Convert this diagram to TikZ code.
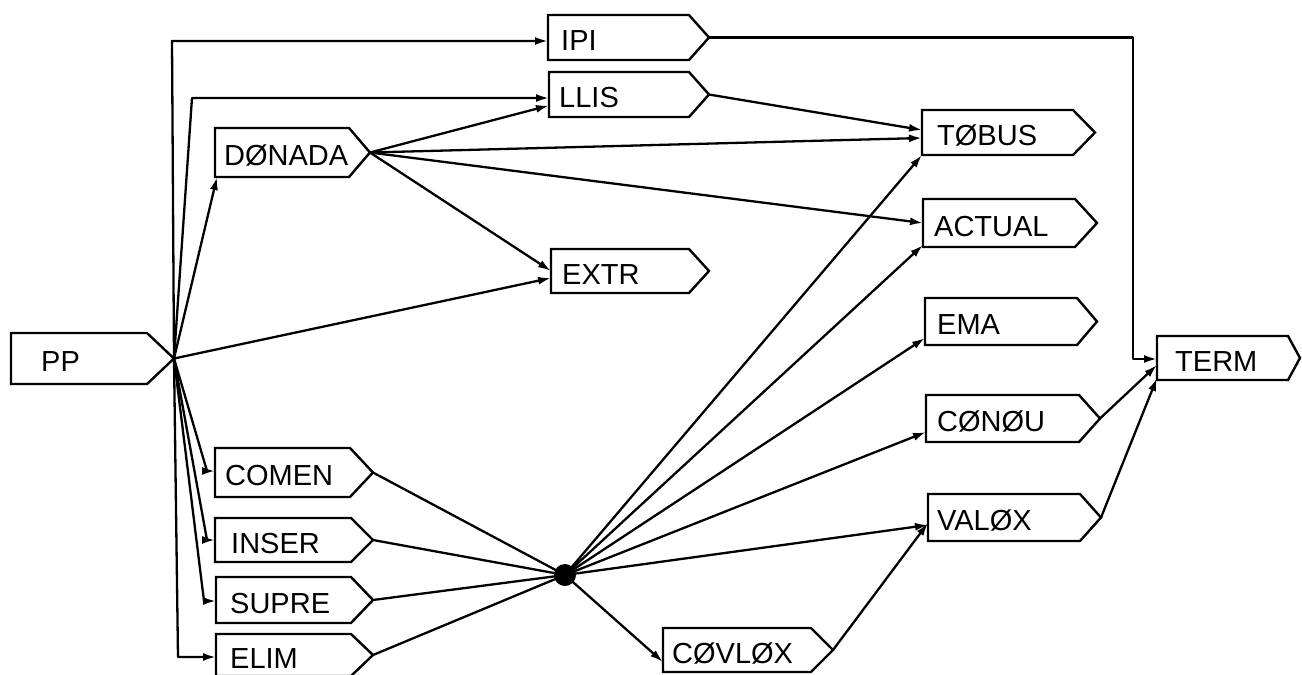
\documentclass[tikz,border=0pt]{standalone}
\usepackage{fontspec}
\setmainfont{Liberation Sans}
\usetikzlibrary{arrows.meta,calc}
\tikzset{
  boxline/.style={draw=black, line width=2.4pt, line join=miter},
  lbl/.style={inner sep=0pt, font=\fontsize{29}{29}\selectfont, text=black},
  anc/.style={inner sep=0pt, outer sep=0pt},
  conn/.style={line width=2.3pt, draw=black, line join=round},
  arr/.style={conn, -{Latex[length=13pt,width=8pt]}},
  dotn/.style={circle, fill=black, inner sep=0pt, minimum size=22pt},
}
% #1 name, #2 x1, #3 y1, #4 x2, #5 y2, #6 tip x, #7 text offset, #8 text
\newcommand\blk[8]{%
  \draw[boxline] (#2,#3) -- (#4,#3) -- (#6,{(#3+#5)/2}) -- (#4,#5) -- (#2,#5) -- cycle;
  \node[anc, anchor=north west, minimum width={(#4-#2)*1pt}, minimum height={(#5-#3)*1pt}] (#1) at (#2,#3) {};
  \coordinate (#1-tip) at (#6,{(#3+#5)/2});
  \node[lbl, anchor=base west] (#1-t) at ({#2+#7},{(#3+#5)/2+13}) {#8};
}
\begin{document}
\begin{tikzpicture}[x=1pt,y=-1pt]
\useasboundingbox[fill=white] (0,0) rectangle (1302,675);
% blocks
\blk{pp}{11}{333}{147}{384}{174}{30}{PP}
\blk{ipi}{548}{15}{689}{60}{709}{13}{IPI}
\blk{llis}{549}{72}{689}{117}{709}{10}{LLIS}
\blk{donada}{215}{128}{349}{177}{370}{9}{DØNADA}
\blk{extr}{551}{249}{689}{293}{709}{11}{EXTR}
\blk{comen}{215}{448}{350}{497}{373}{10}{COMEN}
\blk{inser}{215}{518}{351}{562}{373}{16}{INSER}
\blk{supre}{216}{577}{351}{623}{373}{14}{SUPRE}
\blk{elim}{216}{634}{351}{676}{373}{14}{ELIM}
\blk{covlox}{663}{628}{811}{672}{833}{9}{CØVLØX}
\blk{tobus}{922}{110}{1073}{155}{1095}{15}{TØBUS}
\blk{actual}{923}{199}{1075}{247}{1097}{11}{ACTUAL}
\blk{ema}{925}{298}{1077}{345}{1097}{12}{EMA}
\blk{conou}{926}{395}{1079}{442}{1100}{11}{CØNØU}
\blk{valox}{928}{494}{1080}{541}{1101}{9}{VALØX}
\blk{term}{1157}{336}{1288}{380}{1300}{18}{TERM}
% bend points
\coordinate (k1) at (172,41);
\coordinate (k2) at (192,98);
\coordinate (k5) at (207,471);
\coordinate (k6) at (207,540);
\coordinate (k7) at (204,601);
\coordinate (k8) at (178,657);
\coordinate (k9) at (1133,0);
\coordinate (term-in) at ([yshift=-1pt]term.west);
\coordinate (hub) at (565,575);
% from PP
\draw[arr] (pp-tip) -- (k1) -- (k1 -| ipi.west);
\draw[arr] (pp-tip) -- (k2) -- (k2 -| llis.west);
\draw[arr] (pp-tip) -- ([xshift=2pt]donada.south west);
\draw[arr] (pp-tip) -- ([yshift=-7pt]extr.west);
\draw[arr] (pp-tip) -- (k5) -- (k5 -| comen.west);
\draw[arr] (pp-tip) -- (k6) -- (k6 -| inser.west);
\draw[arr] (pp-tip) -- (k7) -- (k7 -| supre.west);
\draw[arr] (pp-tip) -- (k8) -- (k8 -| elim.west);
% from DONADA
\draw[arr] (donada-tip) -- ([yshift=-11pt]llis.west);
\draw[arr] (donada-tip) -- ([yshift=-5.5pt]tobus.west);
\draw[arr] (donada-tip) -- (actual.west);
\draw[arr] (donada-tip) -- (extr.west);
% from LLIS
\draw[arr] (llis-tip) -- ([yshift=2.5pt]tobus.west);
% into the hub
\draw[conn] (comen-tip) -- (hub);
\draw[conn] (inser-tip) -- (hub);
\draw[conn] (supre-tip) -- (hub);
\draw[conn] (elim-tip) -- (hub);
% out of the hub
\draw[arr] (hub) -- (tobus.south west);
\draw[arr] (hub) -- ([yshift=2pt]actual.south west);
\draw[arr] (hub) -- ([yshift=7pt]ema.south west);
\draw[arr] (hub) -- ([yshift=10pt]conou.south west);
\draw[arr] (hub) -- ([yshift=16pt]valox.south west);
\draw[arr] (hub) -- ([yshift=10pt]covlox.south west);
\node[dotn] (dot) at (hub) {};
% right part
\draw[arr] (covlox-tip) -- ([yshift=18pt]valox.south west);
\draw[arr] (conou-tip) -- ([yshift=-7pt]term.west);
\draw[arr] (valox-tip) -- ([yshift=2pt]term.south west);
\draw[arr] (ipi-tip) -- (ipi-tip -| k9) -- (k9 |- term-in) -- (term-in);
\end{tikzpicture}
\end{document}
